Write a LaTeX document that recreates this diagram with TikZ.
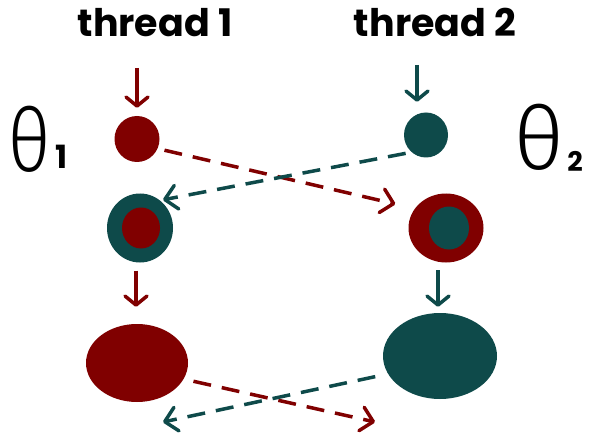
\documentclass[tikz,border=0pt]{standalone}
\usepackage{fontspec}
\usetikzlibrary{arrows.meta,shapes.geometric}
\newfontfamily\labfont{Poppins}
\newfontfamily\thetafont{Fira Sans}[UprightFont={* Light}]
\definecolor{dred}{RGB}{128,0,0}
\definecolor{dteal}{RGB}{14,74,74}
\begin{document}
\begin{tikzpicture}[x=1pt,y=-1pt,
  blob/.style={ellipse, inner sep=0pt, draw=none},
  vline/.style={line width=3.5pt, -{Straight Barb[length=9pt,width=22pt,round]}},
  dline/.style={line width=3.5pt, dash pattern=on 18pt off 11pt, -{Straight Barb[length=12pt,width=24pt,round]}},
  lab/.style={font=\labfont\bfseries\fontsize{38}{40}\selectfont, inner sep=0pt, anchor=base},
  thlab/.style={inner sep=0pt, font=\thetafont\fontsize{88}{88}\selectfont},
  sublab/.style={inner sep=0pt},
]
\useasboundingbox (0,0) rectangle (592,433);
\fill[white] (0,0) rectangle (592,433);
% labels
\node[lab] (t1) at (155,37) {thread 1};
\node[lab] (t2) at (435,37) {thread 2};
\node[thlab] (th1) at (29.5,139) {\scalebox{0.85}[1]{θ}};
\node[sublab, font=\labfont\bfseries\fontsize{32}{32}\selectfont] (th1s) at (62,157) {1};
\node[thlab] (th2) at (539,137.5) {θ};
\node[sublab, font=\labfont\bfseries\fontsize{27}{27}\selectfont] (th2s) at (575,161) {2};
% blobs
\node[blob, fill=dred, minimum width=45pt, minimum height=46pt] (c1) at (137,139) {};
\node[blob, fill=dteal, minimum width=44pt, minimum height=45pt] (c2) at (426,135) {};
\node[blob, fill=dteal, minimum width=66pt, minimum height=69pt] (r1) at (140,228) {};
\node[blob, fill=dred, minimum width=38pt, minimum height=41pt] (r1i) at (141,228) {};
\node[blob, fill=dred, minimum width=75pt, minimum height=69pt] (r2) at (446,228) {};
\node[blob, fill=dteal, minimum width=40pt, minimum height=43pt] (r2i) at (449,228) {};
\node[blob, fill=dred, minimum width=102pt, minimum height=78pt] (e1) at (137,363) {};
\node[blob, fill=dteal, minimum width=114pt, minimum height=86pt] (e2) at (440,356) {};
% vertical arrows
\coordinate (a1) at (137,68);
\coordinate (a2) at (417,65);
\draw[vline, dred, shorten >=8pt] (a1) -- (a1 |- c1.north);
\draw[vline, dteal, shorten >=10.5pt] (a2) -- (a2 |- c2.north);
\draw[vline, dred, shorten <=8pt, shorten >=17pt] ([xshift=-4pt]r1.south) -- ([xshift=-4pt]r1.south |- e1.north);
\draw[vline, dteal, shorten <=7.5pt, shorten >=6pt] ([xshift=-8pt]r2.south) -- ([xshift=-8pt]r2.south |- e2.north);
% dashed exchanges
\draw[dline, dred, shorten <=7pt, shorten >=20pt] (c1.-25) -- (r2.148);
\draw[dline, dteal, shorten <=6pt, shorten >=3pt] (c2.230) -- (r1.54);
\coordinate (b1) at (375,422);
\coordinate (b2) at (163,422);
\draw[dline, dred, shorten <=10pt] (e1.-19) -- (b1);
\draw[dline, dteal, shorten <=13pt] (e2.199) -- (b2);
\end{tikzpicture}
\end{document}
